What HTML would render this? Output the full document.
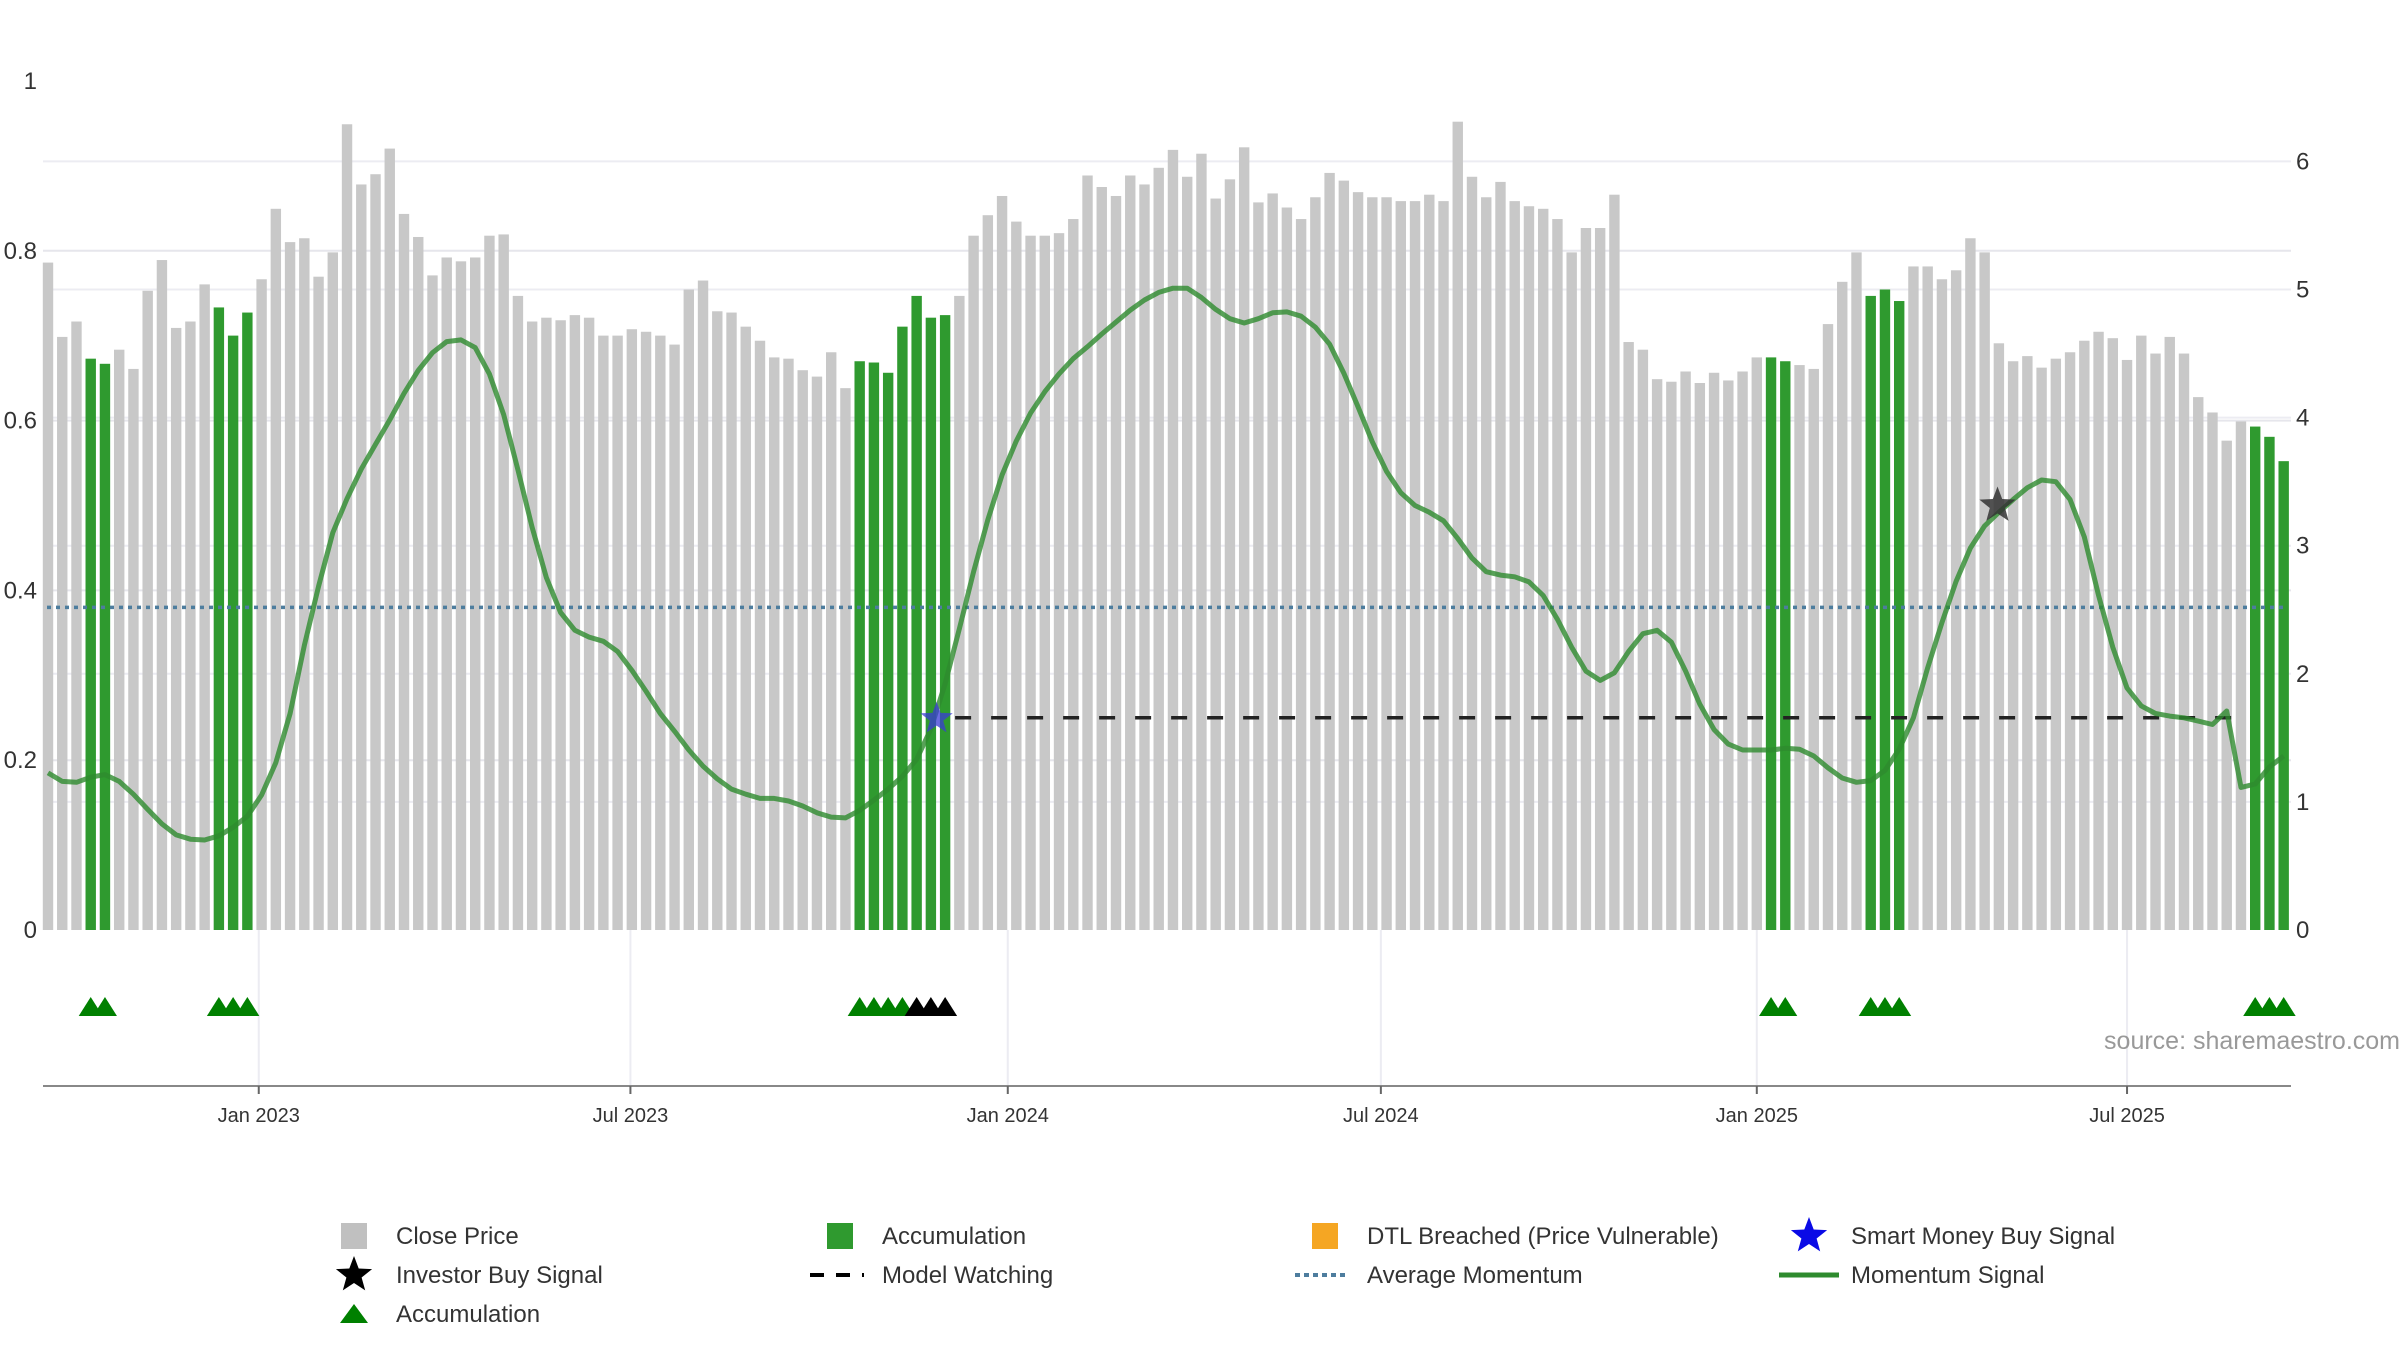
<!DOCTYPE html>
<html><head><meta charset="utf-8"><title>Momentum chart</title>
<style>
html,body{margin:0;padding:0;background:#fff;}
svg{display:block;font-family:"Liberation Sans","DejaVu Sans",sans-serif;}
</style></head>
<body>
<svg id="chart" width="2400" height="1350" viewBox="0 0 2400 1350" xmlns="http://www.w3.org/2000/svg">
<g id="grid"></g>
<g id="bars"></g>
<g id="lines"></g>
<g id="marks"></g>
<g id="axes"></g>
<text x="2400" y="1049" text-anchor="end" font-size="25" fill="#999">source: sharemaestro.com</text>
<g id="legend"></g>
</svg>
<script>
const prices = [5.21,4.63,4.75,4.46,4.42,4.53,4.38,4.99,5.23,4.70,4.75,5.04,4.86,4.64,4.82,5.08,5.63,5.37,5.40,5.10,5.29,6.29,5.82,5.90,6.10,5.59,5.41,5.11,5.25,5.22,5.25,5.42,5.43,4.95,4.75,4.78,4.76,4.80,4.78,4.64,4.64,4.69,4.67,4.64,4.57,5.00,5.07,4.83,4.82,4.71,4.60,4.47,4.46,4.37,4.32,4.51,4.23,4.44,4.43,4.35,4.71,4.95,4.78,4.80,4.95,5.42,5.58,5.73,5.53,5.42,5.42,5.44,5.55,5.89,5.80,5.73,5.89,5.82,5.95,6.09,5.88,6.06,5.71,5.86,6.11,5.68,5.75,5.64,5.55,5.72,5.91,5.85,5.76,5.72,5.72,5.69,5.69,5.74,5.69,6.31,5.88,5.72,5.84,5.69,5.65,5.63,5.55,5.29,5.48,5.48,5.74,4.59,4.53,4.30,4.28,4.36,4.27,4.35,4.29,4.36,4.47,4.47,4.44,4.41,4.38,4.73,5.06,5.29,4.95,5.00,4.91,5.18,5.18,5.08,5.15,5.40,5.29,4.58,4.44,4.48,4.39,4.46,4.51,4.60,4.67,4.62,4.45,4.64,4.50,4.63,4.50,4.16,4.04,3.82,3.97,3.93,3.85,3.66];
const accumBars = [3,4,12,13,14,57,58,59,60,61,62,63,121,122,128,129,130,155,156,157];
const momentum = [.185,.175,.174,.180,.183,.175,.160,.142,.125,.112,.107,.106,.111,.121,.134,.159,.197,.255,.335,.405,.468,.508,.543,.572,.601,.632,.659,.680,.693,.695,.686,.655,.607,.542,.474,.415,.374,.353,.345,.340,.328,.306,.281,.255,.234,.212,.193,.178,.166,.160,.155,.155,.152,.146,.138,.133,.132,.141,.153,.166,.181,.201,.237,.290,.355,.422,.483,.536,.576,.609,.634,.655,.673,.687,.702,.716,.730,.742,.751,.756,.756,.745,.731,.720,.715,.720,.727,.728,.723,.710,.690,.656,.616,.575,.540,.515,.500,.492,.482,.461,.438,.422,.418,.416,.410,.394,.366,.333,.305,.294,.303,.328,.349,.353,.339,.305,.266,.236,.219,.212,.212,.212,.214,.213,.205,.191,.179,.174,.176,.188,.213,.250,.309,.362,.411,.450,.476,.492,.507,.521,.530,.528,.507,.463,.394,.333,.285,.264,.255,.252,.250,.246,.242,.258,.168,.172,.192,.205];
const avgMomentum = 0.38;
const watchLevel = 0.25;
const watchStart = 63;
const triGreen = [3,4,12,13,14,57,58,59,60,121,122,128,129,130,155,156,157];
const triBlack = [61,62,63];
const smartStar = [62.4, 0.249];
const investorStar = [136.9, 0.50];
const xTickLabels = ["Jan 2023","Jul 2023","Jan 2024","Jul 2024","Jan 2025","Jul 2025"];
const xTickWeeks = [14.8,40.9,67.4,93.6,120.0,146.0];
const leftTicks = [0,0.2,0.4,0.6,0.8,1];
const leftTickLabels = ["0","0.2","0.4","0.6","0.8","1"];
const rightTicks = [0,1,2,3,4,5,6];

const NS="http://www.w3.org/2000/svg";
const X0=48, STEP=14.24, BASE=930, PLOT_L=43, PLOT_R=2291;
const xS = i => X0 + i*STEP;
const yL = v => BASE - v*849;
const yR = p => BASE - p*128.1;
function mk(tag, attrs, parent){const e=document.createElementNS(NS,tag);for(const k in attrs)e.setAttribute(k,attrs[k]);parent.appendChild(e);return e;}
const grid=document.getElementById('grid'), bars=document.getElementById('bars'), lines=document.getElementById('lines'), marks=document.getElementById('marks'), axes=document.getElementById('axes'), legend=document.getElementById('legend');

leftTicks.forEach(v=>{ if(v>0&&v<1){const l=mk('line',{x1:PLOT_L,x2:PLOT_R,y1:yL(v),y2:yL(v),stroke:'#e6e6ec','stroke-width':2},grid);

}});
rightTicks.forEach(v=>{ if(v>0){const l=mk('line',{x1:PLOT_L,x2:PLOT_R,y1:yR(v),y2:yR(v),stroke:'#ececf2','stroke-width':2},grid);

}});
xTickWeeks.forEach(w=>{const l=mk('line',{x1:xS(w),x2:xS(w),y1:930,y2:1086,stroke:'#ececf2','stroke-width':2},grid);

});

prices.forEach((p,i)=>{const g=accumBars.includes(i);
const r=mk('rect',{x:xS(i)-5.2,y:yR(p),width:10.4,height:BASE-yR(p),fill:g?'#2f9a2f':'#c8c8c8'},bars);

});

const am=mk('line',{x1:PLOT_L+4,x2:PLOT_R-6,y1:yL(avgMomentum),y2:yL(avgMomentum),stroke:'#4d7d9e','stroke-width':3.5,'stroke-dasharray':'4 5'},lines);


const mw=mk('line',{x1:xS(watchStart)+10,x2:xS(155)-14,y1:yL(watchLevel),y2:yL(watchLevel),stroke:'#222','stroke-width':3.5,'stroke-dasharray':'16 20'},lines);


const pts=momentum.map((v,i)=>xS(i).toFixed(1)+','+yL(v).toFixed(1)).join(' ');
const ml=mk('polyline',{points:pts,fill:'none',stroke:'#2e8b2e','stroke-width':5,'stroke-opacity':0.8,'stroke-linejoin':'round'},lines);



function tri(i,color,name){const cx=xS(i),cy=1006;
const t=mk('polygon',{points:`${cx-12},${cy+10} ${cx},${cy-9} ${cx+12},${cy+10}`,fill:color},marks);

}
triGreen.forEach(i=>tri(i,'#008000','accumulation-triangle'));
triBlack.forEach(i=>tri(i,'#000','investor-triangle'));

function starPts(cx,cy,R,r){let s=[];for(let k=0;k<10;k++){const a=-Math.PI/2+k*Math.PI/5,rr=k%2?r:R;s.push((cx+rr*Math.cos(a)).toFixed(1)+','+(cy+rr*Math.sin(a)).toFixed(1));}return s.join(' ');}
const s1=mk('polygon',{points:starPts(xS(smartStar[0]),yL(smartStar[1]),17,7),fill:'#3b3bd6','fill-opacity':0.75},marks);


const s2=mk('polygon',{points:starPts(xS(investorStar[0]),yL(investorStar[1]),19,8),fill:'#333','fill-opacity':0.85},marks);



const xa=mk('line',{x1:PLOT_L,x2:PLOT_R,y1:1086,y2:1086,stroke:'#888','stroke-width':2},axes);


xTickWeeks.forEach((w,k)=>{
const tk=mk('line',{x1:xS(w),x2:xS(w),y1:1086,y2:1094,stroke:'#666','stroke-width':2},axes);


const tx=mk('text',{x:xS(w),y:1122,'text-anchor':'middle','font-size':20,fill:'#333'},axes);tx.textContent=xTickLabels[k];

});
leftTicks.forEach((v,k)=>{const tx=mk('text',{x:37,y:yL(v)+8,'text-anchor':'end','font-size':24,fill:'#333'},axes);tx.textContent=leftTickLabels[k];

});
rightTicks.forEach(v=>{const tx=mk('text',{x:2296,y:yR(v)+8,'font-size':24,fill:'#333'},axes);tx.textContent=String(v);

});

const cols=[354,840,1325,1809], rows=[1236,1275,1314];
const items=[
 ['square','#c0c0c0','Close Price'],['square','#2f9a2f','Accumulation'],['square','#f5a623','DTL Breached (Price Vulnerable)'],['star','#0a0ae6','Smart Money Buy Signal'],
 ['star','#000','Investor Buy Signal'],['dash','#000','Model Watching'],['dot','#4d7d9e','Average Momentum'],['line','#2e8b2e','Momentum Signal'],
 ['tri','#008000','Accumulation']];
items.forEach((it,k)=>{const cx=cols[k%4], cy=rows[Math.floor(k/4)];
const g=mk('g',{},legend);


if(it[0]==='square')mk('rect',{x:cx-13,y:cy-13,width:26,height:26,fill:it[1]},g);
if(it[0]==='star')mk('polygon',{points:starPts(cx,cy,19,8),fill:it[1]},g);
if(it[0]==='tri')mk('polygon',{points:`${cx-14},${cy+9} ${cx},${cy-10} ${cx+14},${cy+9}`,fill:it[1]},g);
if(it[0]==='dash')mk('line',{x1:cx-30,x2:cx+24,y1:cy,y2:cy,stroke:it[1],'stroke-width':4,'stroke-dasharray':'14 12'},g);
if(it[0]==='dot')mk('line',{x1:cx-30,x2:cx+24,y1:cy,y2:cy,stroke:it[1],'stroke-width':4,'stroke-dasharray':'5 4'},g);
if(it[0]==='line')mk('line',{x1:cx-30,x2:cx+30,y1:cy,y2:cy,stroke:it[1],'stroke-width':5},g);
const t=mk('text',{x:cx+42,y:cy+8,'font-size':24,fill:'#333'},g);t.textContent=it[2];});
</script>
</body></html>
